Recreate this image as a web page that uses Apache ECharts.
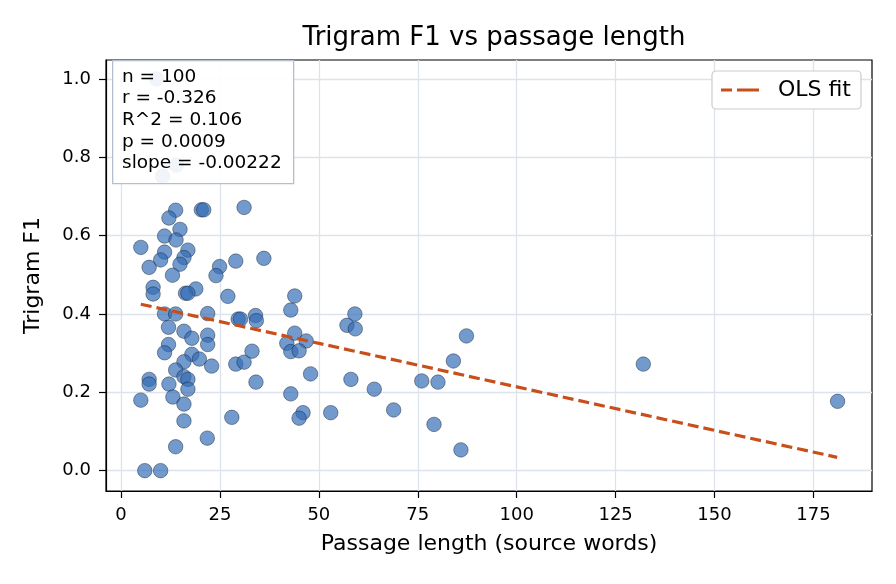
<!DOCTYPE html>
<html>
<head>
<meta charset="utf-8">
<script src="https://cdn.jsdelivr.net/npm/echarts@6/dist/echarts.min.js"></script>
<style>
  html, body { margin: 0; padding: 0; background: #fff; }
  #main { width: 896px; height: 584px; }
</style>
</head>
<body>
<div id="main"></div>
<script>
// passage length (source words) and trigram F1
var lengths = [9, 14, 10.5, 13.8, 12.1, 20.3, 20.9, 31.1, 11, 14.9,
  13.9, 5, 11, 16.9, 10, 15.9, 14.9, 7.1, 24.9, 29,
  36.1, 13, 24, 8.1, 8.1, 18.9, 16.3, 16.9, 27, 43.9,
  42.9, 11, 13.8, 21.9, 29.6, 30.2, 34, 34.2, 59.1, 12,
  15.9, 17.9, 21.9, 21.9, 12, 11, 17.9, 19.8, 15.9, 22.9,
  29, 31.1, 33.1, 13.8, 15.9, 16.9, 7.1, 7.1, 12.1, 16.9,
  34.1, 5, 13.1, 15.9, 15.9, 28, 21.8, 13.8, 6, 10,
  41.9, 46.8, 42.9, 45, 43.9, 57.1, 59.2, 87.3, 84, 47.9,
  58.1, 64, 42.9, 46, 45, 53, 68.9, 76, 80.1, 79.1,
  85.9, 132, 181.1];
var f1 = [1.0, 0.78, 0.752, 0.665, 0.645, 0.666, 0.666, 0.672, 0.599, 0.616,
  0.589, 0.57, 0.558, 0.563, 0.538, 0.544, 0.527, 0.519, 0.521, 0.535,
  0.542, 0.499, 0.498, 0.468, 0.451, 0.464, 0.453, 0.453, 0.445, 0.446,
  0.41, 0.4, 0.4, 0.401, 0.387, 0.387, 0.396, 0.383, 0.4, 0.366,
  0.356, 0.338, 0.346, 0.322, 0.322, 0.301, 0.297, 0.285, 0.278, 0.267,
  0.272, 0.277, 0.305, 0.257, 0.24, 0.233, 0.233, 0.221, 0.221, 0.208,
  0.226, 0.18, 0.188, 0.17, 0.127, 0.136, 0.083, 0.061, 0, 0,
  0.325, 0.331, 0.304, 0.306, 0.351, 0.371, 0.362, 0.344, 0.28, 0.247,
  0.233, 0.208, 0.196, 0.148, 0.134, 0.148, 0.155, 0.229, 0.226, 0.118,
  0.053, 0.272, 0.177];

// OLS fit line end points
var fitX = [5, 181];
var fitY = [0.425, 0.034];

var xTicks = [0, 25, 50, 75, 100, 125, 150, 175];
var yTicks = [0, 0.2, 0.4, 0.6, 0.8, 1.0];

var statsLines = ['n = 100', 'r = -0.326', 'R^2 = 0.106', 'p = 0.0009', 'slope = -0.00222'];

var FONT = 'DejaVu Sans';
var FIT_COLOR = '#c84f1a';

var pts = [];
for (var i = 0; i < lengths.length; i++) pts.push([lengths[i], f1[i]]);
var fitPts = [[fitX[0], fitY[0]], [fitX[1], fitY[1]]];

// dashed legend key
var dashIcon = 'path://M0,0 L11,0 L11,3 L0,3 Z M16,0 L38,0 L38,3 L16,3 Z';

var myChart = echarts.init(document.getElementById('main'));
var option = {
  animation: false,
  backgroundColor: '#ffffff',
  title: {
    text: 'Trigram F1 vs passage length',
    left: 489,
    textAlign: 'center',
    top: 20,
    textStyle: { fontFamily: FONT, fontSize: 26, fontWeight: 'normal', color: '#000' }
  },
  grid: {
    left: 106, right: 24, top: 60, bottom: 93,
    show: true,
    borderColor: '#000',
    borderWidth: 1.2,
    backgroundColor: 'transparent'
  },
  legend: {
    data: [{ name: 'OLS fit', icon: dashIcon }],
    right: 35,
    top: 71,
    itemWidth: 38,
    itemHeight: 3.2,
    padding: [8, 10, 8, 9],
    backgroundColor: '#ffffff',
    borderColor: '#cccccc',
    borderWidth: 1.2,
    borderRadius: 4,
    itemStyle: { color: FIT_COLOR },
    lineStyle: { width: 0 },
    textStyle: { fontFamily: FONT, fontSize: 22, color: '#000', padding: [0, 0, 0, 14] }
  },
  xAxis: {
    type: 'value',
    min: -3.8,
    max: 189.8,
    name: 'Passage length (source words)',
    nameLocation: 'middle',
    nameGap: 42,
    nameTextStyle: { fontFamily: FONT, fontSize: 22, color: '#000' },
    axisLine: { show: true, onZero: false, lineStyle: { color: '#000', width: 1.2 } },
    axisTick: { show: true, customValues: xTicks, length: 7, lineStyle: { color: '#000', width: 1.2 } },
    axisLabel: { customValues: xTicks, margin: 15, fontFamily: FONT, fontSize: 18, color: '#000' },
    splitLine: { show: true, lineStyle: { color: '#dde3ec', width: 1.3 } }
  },
  yAxis: {
    type: 'value',
    min: -0.052,
    max: 1.0485,
    name: 'Trigram F1',
    nameLocation: 'middle',
    nameGap: 62,
    nameTextStyle: { fontFamily: FONT, fontSize: 22, color: '#000' },
    axisLine: { show: true, onZero: false, lineStyle: { color: '#000', width: 1.2 } },
    axisTick: { show: true, customValues: yTicks, length: 7, lineStyle: { color: '#000', width: 1.2 } },
    axisLabel: {
      customValues: yTicks, margin: 15, fontFamily: FONT, fontSize: 18, color: '#000',
      formatter: function (v) { return v.toFixed(1); }
    },
    splitLine: { show: true, lineStyle: { color: '#dde3ec', width: 1.3 } }
  },
  series: [
    {
      name: 'points',
      type: 'scatter',
      data: pts,
      symbol: 'circle',
      symbolSize: 14.5,
      z: 3,
      itemStyle: {
        color: 'rgba(50, 108, 182, 0.86)',
        borderColor: 'rgba(15, 25, 40, 0.9)',
        borderWidth: 0.6
      }
    },
    {
      name: 'OLS fit',
      type: 'line',
      data: fitPts,
      symbol: 'none',
      z: 4,
      lineStyle: { color: FIT_COLOR, width: 3.2, type: [11, 5] },
      itemStyle: { color: FIT_COLOR }
    }
  ],
  graphic: [
    {
      type: 'rect',
      left: 112,
      top: 60,
      z: 100,
      shape: { x: 0, y: 0, width: 181, height: 123 },
      style: { fill: 'rgba(255,255,255,0.9)', stroke: '#b4bfcc', lineWidth: 1.3 }
    },
    {
      type: 'text',
      left: 122,
      top: 66,
      z: 101,
      style: {
        text: statsLines.join('\n'),
        fontFamily: FONT,
        fontSize: 18.5,
        lineHeight: 21.7,
        fill: '#000'
      }
    }
  ]
};
myChart.setOption(option);
</script>
</body>
</html>
